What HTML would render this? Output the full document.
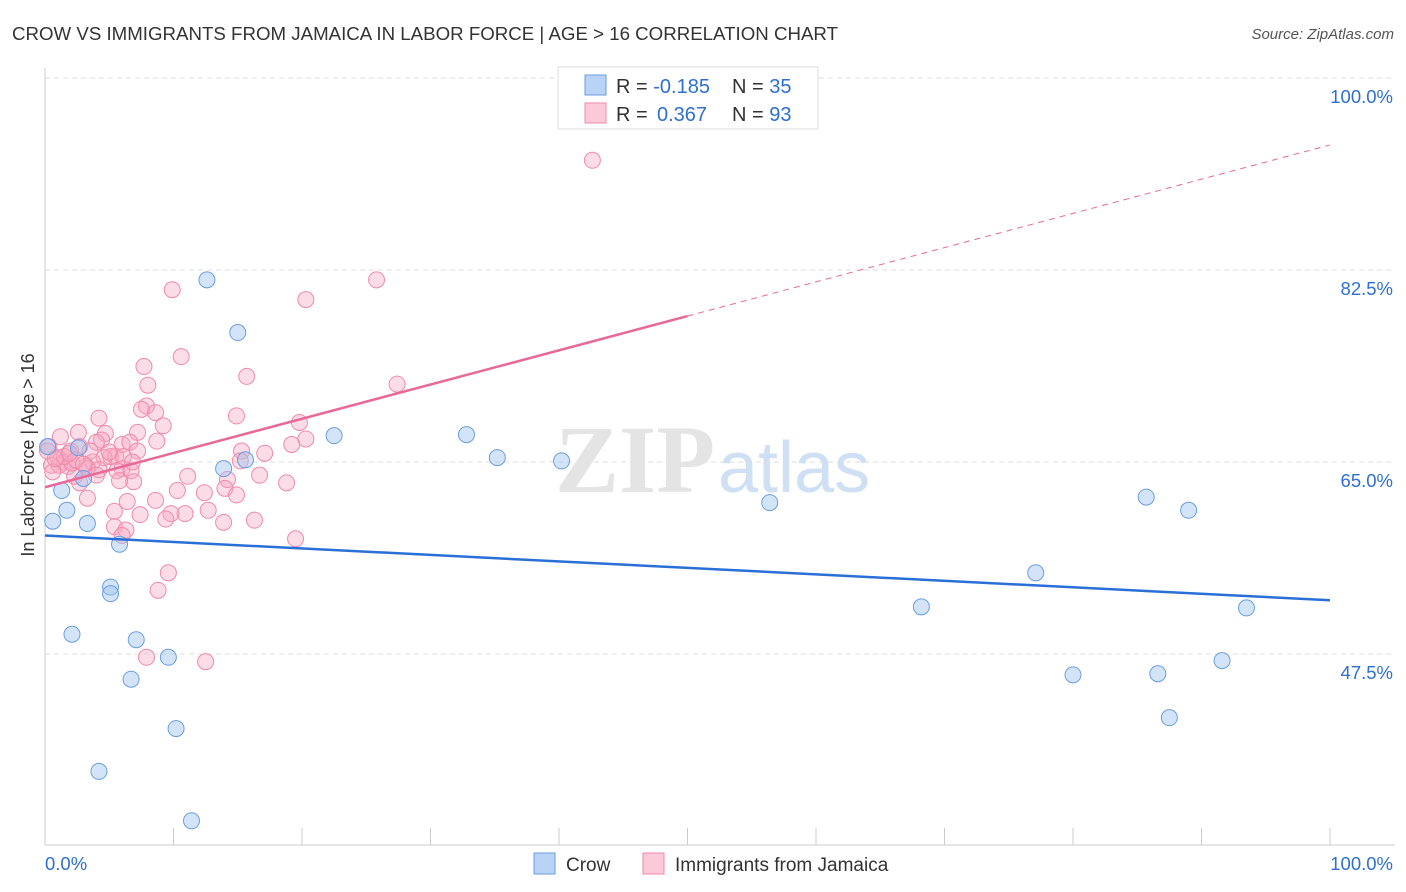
<!DOCTYPE html>
<html><head><meta charset="utf-8"><style>
body{margin:0;background:#fff;font-family:"Liberation Sans",sans-serif;}
svg{display:block}
</style></head><body>
<svg id="chart" width="1406" height="892">
<text x="12" y="40" font-size="18" fill="#333" textLength="826" lengthAdjust="spacingAndGlyphs">CROW VS IMMIGRANTS FROM JAMAICA IN LABOR FORCE | AGE &gt; 16 CORRELATION CHART</text>
<text x="1394" y="39" font-size="15" fill="#555" font-style="italic" text-anchor="end">Source: ZipAtlas.com</text>
<g id="grid"></g>
<g>
<text x="555" y="492" font-size="96" fill="#e4e4e4" font-family="Liberation Serif,serif" font-weight="bold">ZIP</text>
<text x="718" y="492" font-size="72" fill="#cfe0f4">atlas</text>
</g>
<text transform="translate(34,455) rotate(-90)" font-size="18" fill="#333" text-anchor="middle">In Labor Force | Age &gt; 16</text>
<g id="marks"></g>
<g>
<rect x="558" y="67" width="260" height="62" fill="#fff" stroke="#ddd"/>
<rect x="585" y="75" width="21" height="20" fill="#b8d3f5" stroke="#6a9ee0"/>
<rect x="585" y="103" width="21" height="20" fill="#fbc9d8" stroke="#f08aaa"/>
<text x="616" y="93" font-size="20" fill="#333">R = <tspan fill="#2f6fd0">-0.185</tspan></text>
<text x="732" y="93" font-size="20" fill="#333">N = <tspan fill="#2f6fd0">35</tspan></text>
<text x="616" y="121" font-size="20" fill="#333">R = <tspan fill="#2f6fd0" x="657">0.367</tspan></text>
<text x="732" y="121" font-size="20" fill="#333">N = <tspan fill="#2f6fd0">93</tspan></text>
</g>
<g>
<rect x="534" y="853" width="21" height="21" fill="#b8d3f5" stroke="#6a9ee0"/>
<text x="566" y="871" font-size="19" fill="#333">Crow</text>
<rect x="643" y="853" width="21" height="21" fill="#fbc9d8" stroke="#f08aaa"/>
<text x="675" y="871" font-size="19" fill="#333">Immigrants from Jamaica</text>
</g>
</svg>
<script>
const yTicks=[100,82.5,65,47.5];
const yTickLabels=["100.0%","82.5%","65.0%","47.5%"];
const xTickLabels=["0.0%","100.0%"];
const crowX=[0.2,0.6,1.3,1.7,3.3,2.1,2.6,3.0,5.8,5.1,5.1,7.1,6.7,9.6,10.2,4.2,11.4,12.6,15.0,13.9,15.6,22.5,32.8,35.2,40.2,56.4,68.2,77.1,80.0,85.7,86.6,87.5,89.0,91.6,93.5];
const crowY=[66.4,59.6,62.4,60.6,59.4,49.3,66.3,63.5,57.5,53.6,53.0,48.8,45.2,47.2,40.7,36.8,32.3,81.6,76.8,64.4,65.2,67.4,67.5,65.4,65.1,61.3,51.8,54.9,45.6,61.8,45.7,41.7,60.6,46.9,51.7];
const jamX=[42.6,9.9,20.3,25.8,10.6,7.7,15.7,8.0,27.4,7.9,8.6,7.5,14.9,4.2,9.2,19.8,2.6,4.7,7.2,1.2,4.4,4.0,8.7,6.0,6.6,20.3,19.2,0.3,2.0,2.7,7.2,15.3,17.1,5.1,5.5,4.6,1.0,1.5,0.5,1.8,3.2,3.7,1.1,15.2,6.0,5.6,6.7,4.2,3.3,16.7,11.1,14.2,2.3,2.7,6.9,5.8,18.8,14.0,12.4,10.3,14.9,3.3,6.4,8.6,5.4,7.4,12.7,10.9,9.8,9.4,13.9,16.3,5.4,6.3,6.0,19.5,9.6,8.8,7.9,12.5,0.2,0.6,2.1,1.5,3.5,6.1,4.0,2.4,1.9,0.8,3.0,5.0,6.8];
const jamY=[92.5,80.7,79.8,81.6,74.6,73.7,72.8,72.0,72.1,70.1,69.5,69.8,69.2,69.0,68.3,68.6,67.7,67.6,67.7,67.3,67.0,66.8,66.9,66.6,66.8,67.1,66.6,66.4,66.0,66.4,66.0,66.0,65.8,65.5,65.5,65.4,65.4,65.0,64.7,64.6,64.6,65.0,64.7,65.1,64.4,64.2,64.2,64.3,64.4,63.8,63.7,63.4,63.7,63.1,63.2,63.3,63.1,62.6,62.2,62.4,62.0,61.7,61.4,61.5,60.5,60.2,60.6,60.3,60.3,59.8,59.5,59.7,59.1,58.8,58.3,58.0,54.9,53.3,47.2,46.8,66.0,64.1,64.9,65.5,66.0,65.5,63.8,65.2,65.8,65.3,64.8,65.9,65.0];
const crowTrend=[58.3,52.4];
const jamTrend=[62.7,78.3];
const jamTrendEndX=50;
const NS="http://www.w3.org/2000/svg";
const X0=45,X1=1330;
const sx=v=>X0+(X1-X0)*v/100;
const sy=v=>78+(100-v)*192/17.5;
function mk(tag,attrs,parent){const e=document.createElementNS(NS,tag);for(const k in attrs)e.setAttribute(k,attrs[k]);parent.appendChild(e);return e;}
const grid=document.getElementById('grid'),marks=document.getElementById('marks');
yTicks.forEach((t,i)=>{
 const l=mk('line',{x1:45,x2:1395,y1:sy(t),y2:sy(t),stroke:'#ddd','stroke-dasharray':'5,4'},grid);
 
 
 const tx=mk('text',{x:1393,y:sy(t)+25,'font-size':18.5,fill:'#2f6fd0','text-anchor':'end'},grid);
 tx.textContent=yTickLabels[i];
 
 
});
const ax=mk('line',{x1:45,x2:45,y1:68,y2:845,stroke:'#ccc'},grid);


const bx=mk('line',{x1:45,x2:1395,y1:845,y2:845,stroke:'#ccc'},grid);


for(let i=0;i<=10;i++){
 const t=mk('line',{x1:sx(i*10),x2:sx(i*10),y1:828,y2:845,stroke:'#ccc'},grid);
 
 
}
[[0,'start',45],[1,'end',1393]].forEach(([i,a,x])=>{
 const t=mk('text',{x:x,y:870,'font-size':18.5,fill:'#2f6fd0','text-anchor':a},grid);
 t.textContent=xTickLabels[i];
 
 
});
jamX.forEach((v,i)=>{
 const c=mk('circle',{cx:sx(v),cy:sy(jamY[i]),r:8,fill:'rgba(247,168,195,0.4)',stroke:'#f08aaa','stroke-width':1},marks);
 
 
});
crowX.forEach((v,i)=>{
 const c=mk('circle',{cx:sx(v),cy:sy(crowY[i]),r:8,fill:'rgba(160,195,240,0.45)',stroke:'#6a9ee0','stroke-width':1},marks);
 
 
});
const slope=(jamTrend[1]-jamTrend[0])/jamTrendEndX;
const pl=mk('line',{x1:sx(0),y1:sy(jamTrend[0]),x2:sx(jamTrendEndX),y2:sy(jamTrend[1]),stroke:'#e8689a','stroke-width':2.5},marks);


const pd=mk('line',{x1:sx(jamTrendEndX),y1:sy(jamTrend[1]),x2:sx(100),y2:sy(jamTrend[0]+slope*100),stroke:'#e8689a','stroke-width':1,'stroke-dasharray':'6,5'},marks);


const bl=mk('line',{x1:sx(0),y1:sy(crowTrend[0]),x2:sx(100),y2:sy(crowTrend[1]),stroke:'#2a6fd6','stroke-width':2.5},marks);


</script>
</body></html>
